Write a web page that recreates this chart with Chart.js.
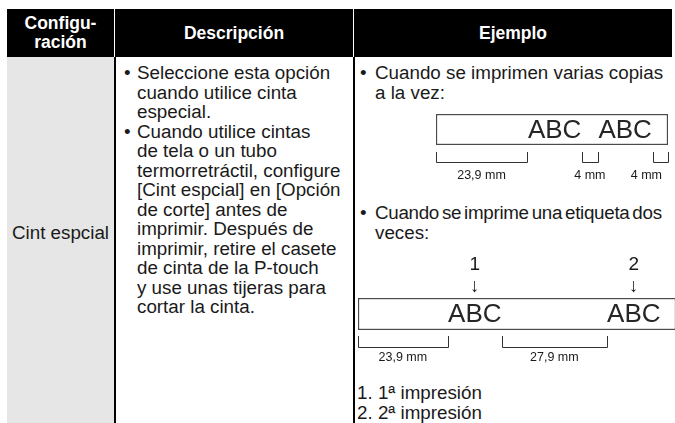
<!DOCTYPE html>
<html lang="es">
<head>
<meta charset="utf-8">
<script src="https://cdn.jsdelivr.net/npm/chart.js@4.4.1/dist/chart.umd.min.js"></script>
<style>
  html, body { margin: 0; padding: 0; background: #fff; }
  body { width: 675px; height: 423px; overflow: hidden; position: relative;
         font-family: "Liberation Sans", Arial, sans-serif; color: #1a1a1a; }
  .cab { position: absolute; top: 9px; height: 48px; background: #000; color: #fff;
         font-weight: bold; font-size: 17.5px; line-height: 19px;
         display: flex; align-items: center; justify-content: center; text-align: center; }
  .gris { position: absolute; left: 7px; top: 57px; width: 107px; height: 366px; background: #e6e6e6; }
  .linea { position: absolute; top: 57px; width: 2.5px; height: 366px; background: #000; }
  .texto { position: absolute; font-size: 18.8px; line-height: 19.5px; white-space: nowrap; }
  .item { position: relative; }
  .item::before { content: "\2022"; position: absolute; left: 0; }
  .medio .item { padding-left: 13px; }
  .dcha .item { padding-left: 15px; }
  .apretada { word-spacing: -2px; letter-spacing: -0.3px; }
  canvas { position: absolute; }
</style>
</head>
<body>

<div class="cab" style="left:7px; width:107px;">Configu-<br>ración</div>
<div class="cab" style="left:115px; width:238px;">Descripción</div>
<div class="cab" style="left:354px; width:318px;">Ejemplo</div>

<div class="gris"></div>
<div class="linea" style="left:113.5px;"></div>
<div class="linea" style="left:352.5px;"></div>

<div class="texto" style="left:7px; width:107px; top:223px; text-align:center;">Cint espcial</div>

<div class="texto medio" style="left:124px; top:63px;">
  <div class="item">Seleccione esta opción<br>cuando utilice cinta<br>especial.</div>
  <div class="item">Cuando utilice cintas<br>de tela o un tubo<br>termorretráctil, configure<br>[Cint espcial] en [Opción<br>de corte] antes de<br>imprimir. Después de<br>imprimir, retire el casete<br>de cinta de la P-touch<br>y use unas tijeras para<br>cortar la cinta.</div>
</div>

<div class="texto dcha" style="left:360px; top:63px;">
  <div class="item">Cuando se imprimen varias copias<br>a la vez:</div>
</div>
<div class="texto dcha" style="left:360px; top:203px;">
  <div class="item"><span class="apretada">Cuando se imprime una etiqueta dos</span><br>veces:</div>
</div>
<div class="texto" style="left:357px; top:383px;">1. 1ª impresión<br>2. 2ª impresión</div>

<canvas id="copiasChart" width="249" height="90" style="left:426px; top:104px;"></canvas>
<canvas id="dobleChart" width="340" height="122" style="left:348px; top:248px;"></canvas>

<script>
// tramos de la cinta (mm), de izquierda a derecha
const copiasTramos = ['Margen', 'ABC', 'Separación', 'ABC', 'Margen'];
const copiasMm = [23.9, 14.5, 4, 14.5, 4];
const copiasCotas = ['23,9 mm', null, '4 mm', null, '4 mm'];

const dobleTramos = ['Margen', 'ABC', 'Separación', 'ABC', 'Margen'];
const dobleMm = [23.9, 14.5, 27.9, 14.5, 4];
const dobleCotas = ['23,9 mm', null, '27,9 mm', null, null];
const dobleMarcas = [null, '1', null, '2', null];

const px = v => Math.round(v) + 0.5;

// dibuja textos, cotas y flechas sobre la cinta usando la escala x
const cintaPlugin = {
  id: 'cinta',
  afterDatasetsDraw(chart, args, opts) {
    const { ctx, chartArea } = chart;
    const x = chart.scales.x;
    const midY = (chartArea.top + chartArea.bottom) / 2;
    let inicio = 0;
    ctx.save();
    opts.tramos.forEach((t, i) => {
      const fin = inicio + opts.mm[i];
      const x0 = x.getPixelForValue(inicio);
      const x1 = x.getPixelForValue(fin);
      const cx = (x0 + x1) / 2;

      if (t === 'ABC') {
        ctx.fillStyle = '#262626';
        ctx.font = '26px "Liberation Sans", Arial, sans-serif';
        ctx.textAlign = 'center';
        ctx.textBaseline = 'middle';
        ctx.fillText('ABC', cx, midY + 1);
      }

      const marca = opts.marcas ? opts.marcas[i] : null;
      if (marca) {
        ctx.fillStyle = '#1a1a1a';
        ctx.font = '19px "Liberation Sans", Arial, sans-serif';
        ctx.textAlign = 'center';
        ctx.textBaseline = 'middle';
        ctx.fillText(marca, cx, opts.marcaY);
        ctx.fillText('\u2193', cx, opts.flechaY);
      }

      const cota = opts.cotas[i];
      if (cota) {
        const yTop = chartArea.bottom + opts.cotaTop;
        const yBot = chartArea.bottom + opts.cotaBottom;
        ctx.strokeStyle = '#333';
        ctx.lineWidth = 1;
        ctx.beginPath();
        ctx.moveTo(px(x0), yTop);
        ctx.lineTo(px(x0), px(yBot));
        ctx.lineTo(px(x1), px(yBot));
        ctx.lineTo(px(x1), yTop);
        ctx.stroke();

        ctx.fillStyle = '#1a1a1a';
        ctx.font = '12.5px "Liberation Sans", Arial, sans-serif';
        ctx.textAlign = 'center';
        ctx.textBaseline = 'middle';
        const w = ctx.measureText(cota).width;
        const lx = Math.min(cx, chartArea.right - 6 - w / 2);
        ctx.fillText(cota, lx, yBot + opts.cotaTexto);
      }
      inicio = fin;
    });
    ctx.restore();
  }
};

function cinta(id, tramos, mm, padding, extra) {
  const total = mm.reduce((a, b) => a + b, 0);
  return new Chart(document.getElementById(id), {
    type: 'bar',
    data: {
      labels: ['Cinta'],
      datasets: [{
        data: [[0, total]],
        backgroundColor: '#fff',
        borderColor: '#4a4a4a',
        borderWidth: 1.5,
        borderSkipped: false,
        barPercentage: 1,
        categoryPercentage: 1
      }]
    },
    options: {
      indexAxis: 'y',
      responsive: false,
      animation: false,
      events: [],
      layout: { padding: padding },
      scales: {
        x: { type: 'linear', min: 0, max: total, display: false },
        y: { display: false }
      },
      plugins: {
        legend: { display: false },
        tooltip: { enabled: false },
        cinta: Object.assign({ tramos: tramos, mm: mm }, extra)
      }
    },
    plugins: [cintaPlugin]
  });
}

cinta('copiasChart', copiasTramos, copiasMm,
  { left: 10, right: 7, top: 10, bottom: 49 },
  { cotas: copiasCotas, cotaTop: 7, cotaBottom: 17, cotaTexto: 14 });

cinta('dobleChart', dobleTramos, dobleMm,
  { left: 10, right: 12, top: 50, bottom: 40 },
  { cotas: dobleCotas, marcas: dobleMarcas, marcaY: 17, flechaY: 39,
    cotaTop: 6, cotaBottom: 17, cotaTexto: 11 });
</script>
</body>
</html>
